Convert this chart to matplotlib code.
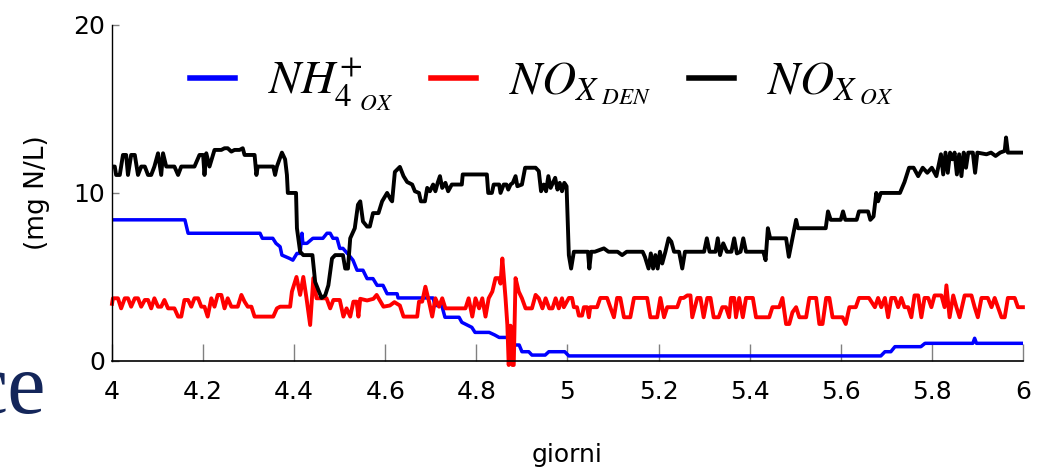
import matplotlib
matplotlib.use("Agg")
import matplotlib.pyplot as plt

# NH4+ ox (blue)
nh4_days = [4.0, 4.16, 4.167, 4.325, 4.33, 4.353, 4.36, 4.369, 4.373, 4.39, 4.397, 4.406,
            4.413, 4.417, 4.419, 4.428, 4.441, 4.463, 4.472, 4.479, 4.485, 4.494, 4.5, 4.507,
            4.52, 4.529, 4.538, 4.551, 4.56, 4.573, 4.582, 4.595, 4.604, 4.626, 4.628, 4.705,
            4.709, 4.724, 4.731, 4.762, 4.768, 4.79, 4.797, 4.828, 4.84, 4.85, 4.872, 4.878,
            4.894, 4.90, 4.915, 4.922, 4.951, 4.959, 4.994, 5.003, 5.688, 5.697, 5.71, 5.719,
            5.776, 5.785, 5.89, 5.894, 5.898, 6.0]
nh4_vals = [8.4, 8.4, 7.6, 7.6, 7.3, 7.3, 7.0, 6.8, 6.3, 6.1, 6.0, 6.4,
            6.4, 7.6, 7.0, 7.0, 7.3, 7.3, 7.6, 7.6, 7.3, 7.3, 6.7, 6.7,
            6.3, 6.0, 5.4, 5.4, 4.9, 4.9, 4.5, 4.5, 4.0, 4.0, 3.75, 3.75,
            3.3, 3.3, 2.6, 2.6, 2.3, 2.0, 1.7, 1.7, 1.55, 1.4, 1.4, 0.95,
            0.95, 0.55, 0.55, 0.35, 0.35, 0.55, 0.55, 0.3, 0.3, 0.55, 0.55, 0.85,
            0.85, 1.05, 1.05, 1.35, 1.05, 1.05]

# NOx den (red)
den_days = [4.0, 4.002, 4.013, 4.02, 4.028, 4.035, 4.042, 4.05, 4.057, 4.064, 4.072, 4.079,
            4.086, 4.093, 4.101, 4.108, 4.115, 4.123, 4.137, 4.145, 4.152, 4.159, 4.167, 4.174,
            4.181, 4.189, 4.196, 4.203, 4.21, 4.218, 4.225, 4.232, 4.24, 4.247, 4.254, 4.262,
            4.276, 4.284, 4.291, 4.298, 4.306, 4.313, 4.354, 4.362, 4.369, 4.391, 4.395, 4.405,
            4.413, 4.42, 4.427, 4.435, 4.442, 4.449, 4.471, 4.479, 4.486, 4.5, 4.508, 4.515,
            4.523, 4.53, 4.537, 4.541, 4.545, 4.56, 4.574, 4.581, 4.596, 4.61, 4.62, 4.632,
            4.64, 4.67, 4.674, 4.681, 4.688, 4.696, 4.703, 4.71, 4.718, 4.725, 4.732, 4.74,
            4.776, 4.783, 4.791, 4.798, 4.806, 4.813, 4.82, 4.827, 4.835, 4.842, 4.849, 4.853,
            4.857, 4.864, 4.868, 4.871, 4.875, 4.879, 4.882, 4.886, 4.893, 4.9, 4.908, 4.922,
            4.93, 4.937, 4.945, 4.952, 4.96, 4.967, 4.974, 4.981, 4.988, 4.992,
            5.003, 5.01, 5.014, 5.021, 5.025, 5.032, 5.036, 5.043, 5.047, 5.05, 5.065, 5.072,
            5.087, 5.094, 5.102, 5.109, 5.116, 5.124, 5.138, 5.146, 5.175, 5.182, 5.197, 5.204,
            5.212, 5.219, 5.241, 5.248, 5.255, 5.263, 5.27, 5.274, 5.285, 5.292, 5.299, 5.307,
            5.314, 5.321, 5.332, 5.34, 5.348, 5.355, 5.359, 5.366, 5.37, 5.377, 5.385, 5.392,
            5.407, 5.414, 5.443, 5.45, 5.465, 5.472, 5.48, 5.487, 5.494, 5.502, 5.509, 5.524,
            5.531, 5.546, 5.553, 5.56, 5.568, 5.575, 5.582, 5.604, 5.611, 5.619, 5.633, 5.64,
            5.662, 5.675, 5.682, 5.689, 5.697, 5.704, 5.711, 5.719, 5.726, 5.733, 5.74, 5.748,
            5.755, 5.762, 5.77, 5.777, 5.784, 5.792, 5.799, 5.806, 5.821, 5.828, 5.832, 5.839,
            5.847, 5.854, 5.861, 5.872, 5.887, 5.894, 5.901, 5.909, 5.923, 5.931, 5.938, 5.953,
            5.96, 5.967, 5.982, 5.989, 6.0]
den_vals = [3.4, 3.73, 3.73, 3.13, 3.73, 3.73, 3.23, 3.73, 3.73, 3.23, 3.63, 3.63,
            3.13, 3.73, 3.23, 3.23, 3.63, 3.13, 3.13, 2.64, 2.64, 3.63, 3.63, 3.23,
            3.73, 3.73, 3.23, 3.23, 2.64, 3.73, 3.23, 3.93, 3.93, 3.13, 3.73, 3.23,
            3.23, 3.93, 3.53, 3.23, 3.23, 2.64, 2.64, 3.13, 3.23, 3.23, 4.13, 5.0,
            3.93, 5.0, 3.73, 2.14, 4.93, 3.73, 3.73, 3.13, 3.63, 3.63, 2.64, 3.13,
            2.64, 3.53, 3.53, 2.64, 3.7, 3.6, 3.7, 3.93, 3.23, 3.3, 3.5, 3.3,
            2.64, 2.64, 3.53, 3.53, 4.42, 3.53, 2.64, 3.73, 3.23, 3.73, 3.13, 3.13,
            3.13, 3.73, 2.64, 3.73, 3.13, 3.73, 2.64, 3.73, 4.13, 4.93, 4.93, 4.6,
            6.1, 3.73, 2.14, -0.24, 2.1, -0.24, -0.24, 4.93, 4.13, 3.73, 3.13, 3.13,
            3.93, 3.73, 3.13, 3.73, 3.13, 3.13, 3.73, 3.13, 3.73, 3.2,
            3.75, 3.75, 3.2, 3.2, 2.7, 2.7, 3.2, 3.2, 2.6, 3.2, 3.2, 3.75,
            3.75, 3.2, 2.6, 3.75, 3.75, 2.6, 2.6, 3.75, 3.75, 2.6, 2.6, 3.75,
            2.6, 3.2, 3.2, 3.75, 3.75, 3.9, 3.9, 2.6, 3.75, 3.75, 2.6, 3.75,
            3.75, 2.6, 2.6, 3.2, 3.2, 2.6, 3.75, 3.75, 2.6, 3.75, 2.6, 3.75,
            3.75, 2.6, 2.6, 3.2, 3.2, 3.75, 2.2, 2.2, 2.9, 3.2, 2.6, 2.6,
            3.75, 3.75, 2.2, 2.2, 3.75, 3.75, 2.6, 2.6, 2.2, 3.2, 3.2, 3.75,
            3.75, 3.2, 3.75, 3.2, 3.75, 2.6, 3.75, 3.75, 3.2, 3.75, 3.2, 3.2,
            2.6, 3.9, 3.9, 2.6, 3.75, 3.75, 3.2, 3.9, 3.9, 3.2, 4.5, 2.6,
            3.9, 3.2, 2.6, 3.9, 3.9, 3.2, 2.6, 3.75, 3.75, 3.2, 3.75, 2.6,
            2.6, 3.75, 3.75, 3.2, 3.2]

# NOx ox (black)
ox_days = [4.0, 4.006, 4.009, 4.017, 4.024, 4.031, 4.035, 4.042, 4.05, 4.057, 4.064, 4.072,
           4.079, 4.086, 4.093, 4.101, 4.108, 4.112, 4.119, 4.137, 4.145, 4.152, 4.181, 4.192,
           4.2, 4.203, 4.207, 4.214, 4.225, 4.24, 4.247, 4.254, 4.262, 4.269, 4.28, 4.287,
           4.291, 4.313, 4.317, 4.32, 4.354, 4.358, 4.362, 4.373, 4.38, 4.384, 4.386, 4.404,
           4.406, 4.413, 4.42, 4.44, 4.446, 4.452, 4.46, 4.468, 4.475, 4.483, 4.49, 4.507,
           4.512, 4.518, 4.523, 4.533, 4.54, 4.545, 4.551, 4.56, 4.566, 4.573, 4.585, 4.593,
           4.604, 4.612, 4.615, 4.621, 4.632, 4.64, 4.648, 4.659, 4.665, 4.674, 4.678, 4.687,
           4.692, 4.698, 4.705, 4.71, 4.715, 4.72, 4.725, 4.732, 4.738, 4.746, 4.768, 4.77,
           4.823, 4.826, 4.834, 4.838, 4.85, 4.853, 4.86, 4.866, 4.87, 4.875, 4.88, 4.886,
           4.89, 4.9, 4.907, 4.93, 4.937, 4.942, 4.948, 4.953, 4.958, 4.963, 4.968, 4.973,
           4.978, 4.983, 4.988, 4.993, 4.998, 5.003, 5.008, 5.014, 5.045, 5.048, 5.052, 5.06,
           5.08, 5.09, 5.11, 5.12, 5.13, 5.165, 5.17, 5.178, 5.183, 5.188, 5.193, 5.198,
           5.203, 5.208, 5.215, 5.222, 5.228, 5.234, 5.245, 5.252, 5.258, 5.30, 5.306, 5.312,
           5.325, 5.33, 5.335, 5.342, 5.35, 5.36, 5.366, 5.372, 5.38, 5.386, 5.392, 5.40,
           5.43, 5.435, 5.44, 5.445, 5.48, 5.486, 5.502, 5.506, 5.567, 5.572, 5.578, 5.60,
           5.605, 5.61, 5.635, 5.64, 5.66, 5.665, 5.672, 5.678, 5.682, 5.688, 5.73, 5.74,
           5.75, 5.76, 5.77, 5.78, 5.79, 5.80, 5.81, 5.82, 5.825, 5.83, 5.835, 5.84,
           5.845, 5.85, 5.855, 5.86, 5.865, 5.87, 5.875, 5.88, 5.89, 5.895, 5.90, 5.92,
           5.93, 5.94, 5.95, 5.96, 5.963, 5.967, 6.0]
ox_vals = [11.57, 11.57, 11.07, 11.07, 12.26, 12.26, 11.07, 12.26, 12.26, 11.07, 11.57, 11.57,
           11.07, 11.07, 11.57, 12.36, 11.07, 12.36, 11.57, 11.57, 11.07, 11.57, 11.57, 12.26,
           12.26, 11.07, 12.36, 11.57, 12.56, 12.56, 12.66, 12.66, 12.46, 12.56, 12.56, 12.66,
           12.26, 12.26, 11.07, 11.57, 11.57, 11.07, 11.57, 12.4, 12.0, 11.07, 10.0, 10.0,
           7.9, 6.5, 6.3, 6.3, 4.7, 4.3, 3.75, 3.9, 4.5, 6.1, 6.3, 6.3,
           5.5, 5.5, 7.3, 7.9, 9.3, 9.5, 8.3, 8.0, 8.0, 8.8, 8.8, 9.5,
           10.0, 9.6, 9.5, 11.25, 11.55, 11.0, 10.65, 10.5, 10.1, 10.0, 9.5, 9.5,
           10.3, 10.1, 10.5, 10.1, 10.6, 11.0, 10.3, 10.6, 10.1, 10.5, 10.5, 11.1,
           11.1, 10.0, 10.0, 10.5, 10.5, 10.0, 10.5, 10.5, 10.2, 10.5, 10.6, 11.0,
           10.4, 10.5, 11.5, 11.5, 11.3, 10.1, 10.5, 10.1, 11.0, 10.3, 10.6, 10.9,
           10.2, 10.6, 10.1, 10.6, 10.4, 6.3, 5.5, 6.5, 6.5, 5.5, 6.5, 6.5,
           6.7, 6.5, 6.5, 6.3, 6.5, 6.5, 6.2, 5.5, 6.4, 5.5, 6.3, 5.5,
           6.5, 5.8, 6.5, 7.3, 7.1, 6.5, 6.5, 5.5, 6.5, 6.5, 7.3, 6.5,
           6.5, 7.3, 6.3, 7.0, 6.5, 6.5, 7.3, 6.4, 6.5, 7.3, 6.5, 6.5,
           6.5, 6.0, 7.9, 7.3, 7.3, 6.2, 8.4, 7.9, 7.9, 8.9, 8.4, 8.4,
           8.9, 8.4, 8.4, 8.9, 8.9, 8.4, 8.6, 10.0, 9.5, 10.0, 10.0, 10.65,
           11.5, 11.5, 11.0, 11.5, 11.2, 11.5, 11.0, 12.3, 11.1, 12.4, 11.2, 12.4,
           12.0, 12.4, 11.1, 12.3, 11.0, 12.4, 11.5, 12.4, 12.4, 11.2, 12.4, 12.3,
           12.4, 12.2, 12.4, 12.5, 13.3, 12.4, 12.4]

x_ticks = [4, 4.2, 4.4, 4.6, 4.8, 5, 5.2, 5.4, 5.6, 5.8, 6]
x_labels = ["4", "4.2", "4.4", "4.6", "4.8", "5", "5.2", "5.4", "5.6", "5.8", "6"]
y_ticks = [0, 10, 20]

plt.rcParams["mathtext.fontset"] = "stix"
fig = plt.figure(figsize=(10.47, 4.70), dpi=100)
ax = fig.add_axes([0.107, 0.232, 0.87, 0.715])

ax.plot(nh4_days, nh4_vals, color="#0000ff", lw=2.5, label=r"$NH^{+}_{4\ _{OX}}$")
ax.plot(den_days, den_vals, color="#ff0000", lw=2.8, clip_on=False, label=r"$NO_{X_{\ DEN}}$")
ax.plot(ox_days, ox_vals, color="black", lw=2.8, label=r"$NO_{X_{\ OX}}$")

ax.set_xlim(4, 6)
ax.set_ylim(0, 20)
ax.set_xticks(x_ticks)
ax.set_xticklabels(x_labels)
ax.set_yticks(y_ticks)
ax.tick_params(axis="x", direction="in", length=12, width=1, color="#808080", pad=14, labelsize=18)
ax.tick_params(axis="y", direction="in", length=5, width=1, color="#808080", pad=5, labelsize=18)
for s in ["top", "right"]:
    ax.spines[s].set_visible(False)
ax.spines["left"].set_linewidth(1)
ax.spines["bottom"].set_linewidth(1.2)

ax.set_ylabel("(mg N/L)", fontsize=19, labelpad=17)
ax.set_xlabel("giorni", fontsize=18, labelpad=28)

ax.legend(loc="center", bbox_to_anchor=(0.517, 0.82), bbox_transform=fig.transFigure,
          ncol=3, frameon=False, fontsize=34, handlelength=0.95, handletextpad=0.7,
          columnspacing=0.8, borderaxespad=0)
leg = ax.get_legend()
for h in leg.legend_handles:
    h.set_linewidth(4)

# leftover slide text at the edge
fig.text(0.044, 0.121, "ce", ha="right", va="baseline", fontsize=62,
         family="Liberation Serif", color="#14265a")

fig.savefig("out.png", dpi=100)
